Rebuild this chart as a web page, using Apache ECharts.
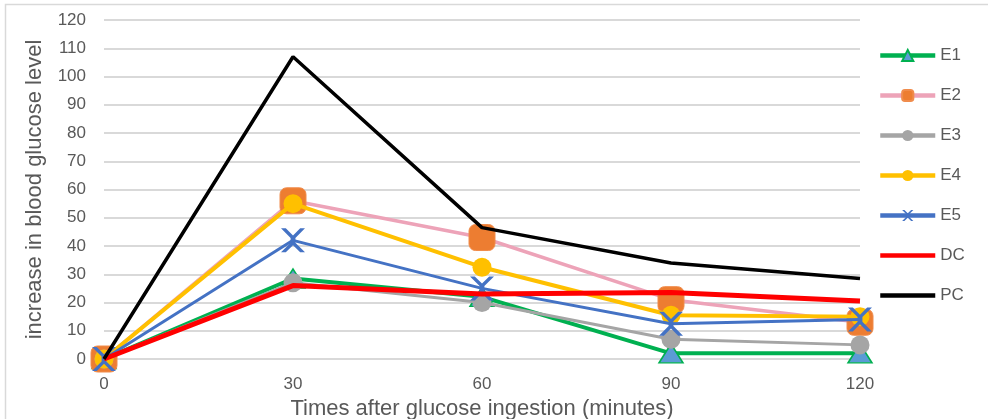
<!DOCTYPE html>
<html>
<head>
<meta charset="utf-8">
<script src="https://cdn.jsdelivr.net/npm/echarts@6/dist/echarts.min.js"></script>
<style>
  html, body { margin: 0; padding: 0; background: #fff; }
  #chart { width: 988px; height: 419px; }
</style>
</head>
<body>
<div id="chart"></div>
<script>
// Minutes after glucose ingestion
const times = [0, 30, 60, 90, 120];

// Increase in blood glucose level per group
const e1 = [0, 28.5, 22, 2, 2];
const e2 = [0, 56, 43, 21, 13];
const e3 = [0, 27, 20, 7, 5];
const e4 = [0, 55, 32.5, 15.5, 15];
const e5 = [0, 42, 25, 12.5, 14];
const dc = [0, 26, 23, 23.5, 20.5];
const pc = [0, 107, 46.5, 34, 28.5];

const yTicks = { min: 0, max: 120, step: 10 };
const xTicks = { min: 0, max: 120, step: 30 };

const textColor = '#595959';
const font = 'Liberation Sans, Arial, sans-serif';

function pairs(values) {
  return times.map((t, i) => [t, values[i]]);
}

const xMark = 'path://M0,0 L2,0 L5,3 L8,0 L10,0 L6,4 L6,6 L10,10 L8,10 L5,7 L2,10 L0,10 L4,6 L4,4 Z';

const seriesDefs = [
  { name: 'E1', data: e1, color: '#00B050', width: 4, symbol: 'triangle', size: [24, 19],
    itemStyle: { color: '#5B9BD5', borderColor: '#00B050', borderWidth: 1.5 } },
  { name: 'E2', data: e2, color: '#EDA3B8', width: 3.5, symbol: 'roundRect', size: 26,
    itemStyle: { color: '#ED7D31', borderColor: '#F08C4C', borderWidth: 1 } },
  { name: 'E3', data: e3, color: '#A5A5A5', width: 3, symbol: 'circle', size: 19,
    itemStyle: { color: '#A5A5A5' } },
  { name: 'E4', data: e4, color: '#FFC000', width: 4, symbol: 'circle', size: 19,
    itemStyle: { color: '#FFC000' } },
  { name: 'E5', data: e5, color: '#4472C4', width: 3, symbol: xMark, size: 24,
    itemStyle: { color: '#4472C4' } },
  { name: 'DC', data: dc, color: '#FF0000', width: 5, symbol: 'none', size: 0,
    itemStyle: { color: '#FF0000' } },
  { name: 'PC', data: pc, color: '#000000', width: 3.5, symbol: 'none', size: 0,
    itemStyle: { color: '#000000' } }
];

const chart = echarts.init(document.getElementById('chart'), null, { renderer: 'canvas' });

chart.setOption({
  backgroundColor: '#ffffff',
  animation: false,
  graphic: [{
    type: 'rect',
    shape: { x: 5.5, y: 4.5, width: 1000, height: 430 },
    style: { fill: 'none', stroke: '#d9d9d9', lineWidth: 1.5 },
    silent: true
  }],
  grid: { left: 104, top: 20, width: 756, height: 339, containLabel: false, outerBoundsMode: 'none' },
  legend: {
    orient: 'vertical',
    left: 878,
    top: 47,
    padding: 0,
    itemWidth: 55,
    itemHeight: 14,
    itemGap: 23,
    lineStyle: { width: 4.5 },
    textStyle: { color: textColor, fontSize: 17, fontFamily: font },
    data: seriesDefs.map(s => s.symbol === 'none'
      ? { name: s.name, itemStyle: { opacity: 0 } }
      : { name: s.name })
  },
  xAxis: {
    type: 'value',
    min: xTicks.min,
    max: xTicks.max,
    interval: xTicks.step,
    name: 'Times after glucose ingestion (minutes)',
    nameLocation: 'middle',
    nameGap: 35,
    nameTextStyle: { color: textColor, fontSize: 22, fontFamily: font },
    axisLine: { show: false },
    axisTick: { show: false },
    splitLine: { show: false },
    axisLabel: { color: textColor, fontSize: 17, fontFamily: font, margin: 17 }
  },
  yAxis: {
    type: 'value',
    min: yTicks.min,
    max: yTicks.max,
    interval: yTicks.step,
    name: 'increase in blood glucose level',
    nameLocation: 'middle',
    nameGap: 58,
    nameTextStyle: { color: textColor, fontSize: 22, fontFamily: font },
    axisLine: { show: false },
    axisTick: { show: false },
    splitLine: { lineStyle: { color: '#d9d9d9', width: 2 } },
    axisLabel: { color: textColor, fontSize: 17, fontFamily: font, margin: 18 }
  },
  series: seriesDefs.map((s, i) => ({
    name: s.name,
    type: 'line',
    data: pairs(s.data),
    symbol: s.symbol,
    symbolSize: s.size,
    showSymbol: s.symbol !== 'none',
    z: 2 + i,
    lineStyle: { color: s.color, width: s.width },
    itemStyle: s.itemStyle,
    emphasis: { disabled: true }
  }))
});
</script>
</body>
</html>
